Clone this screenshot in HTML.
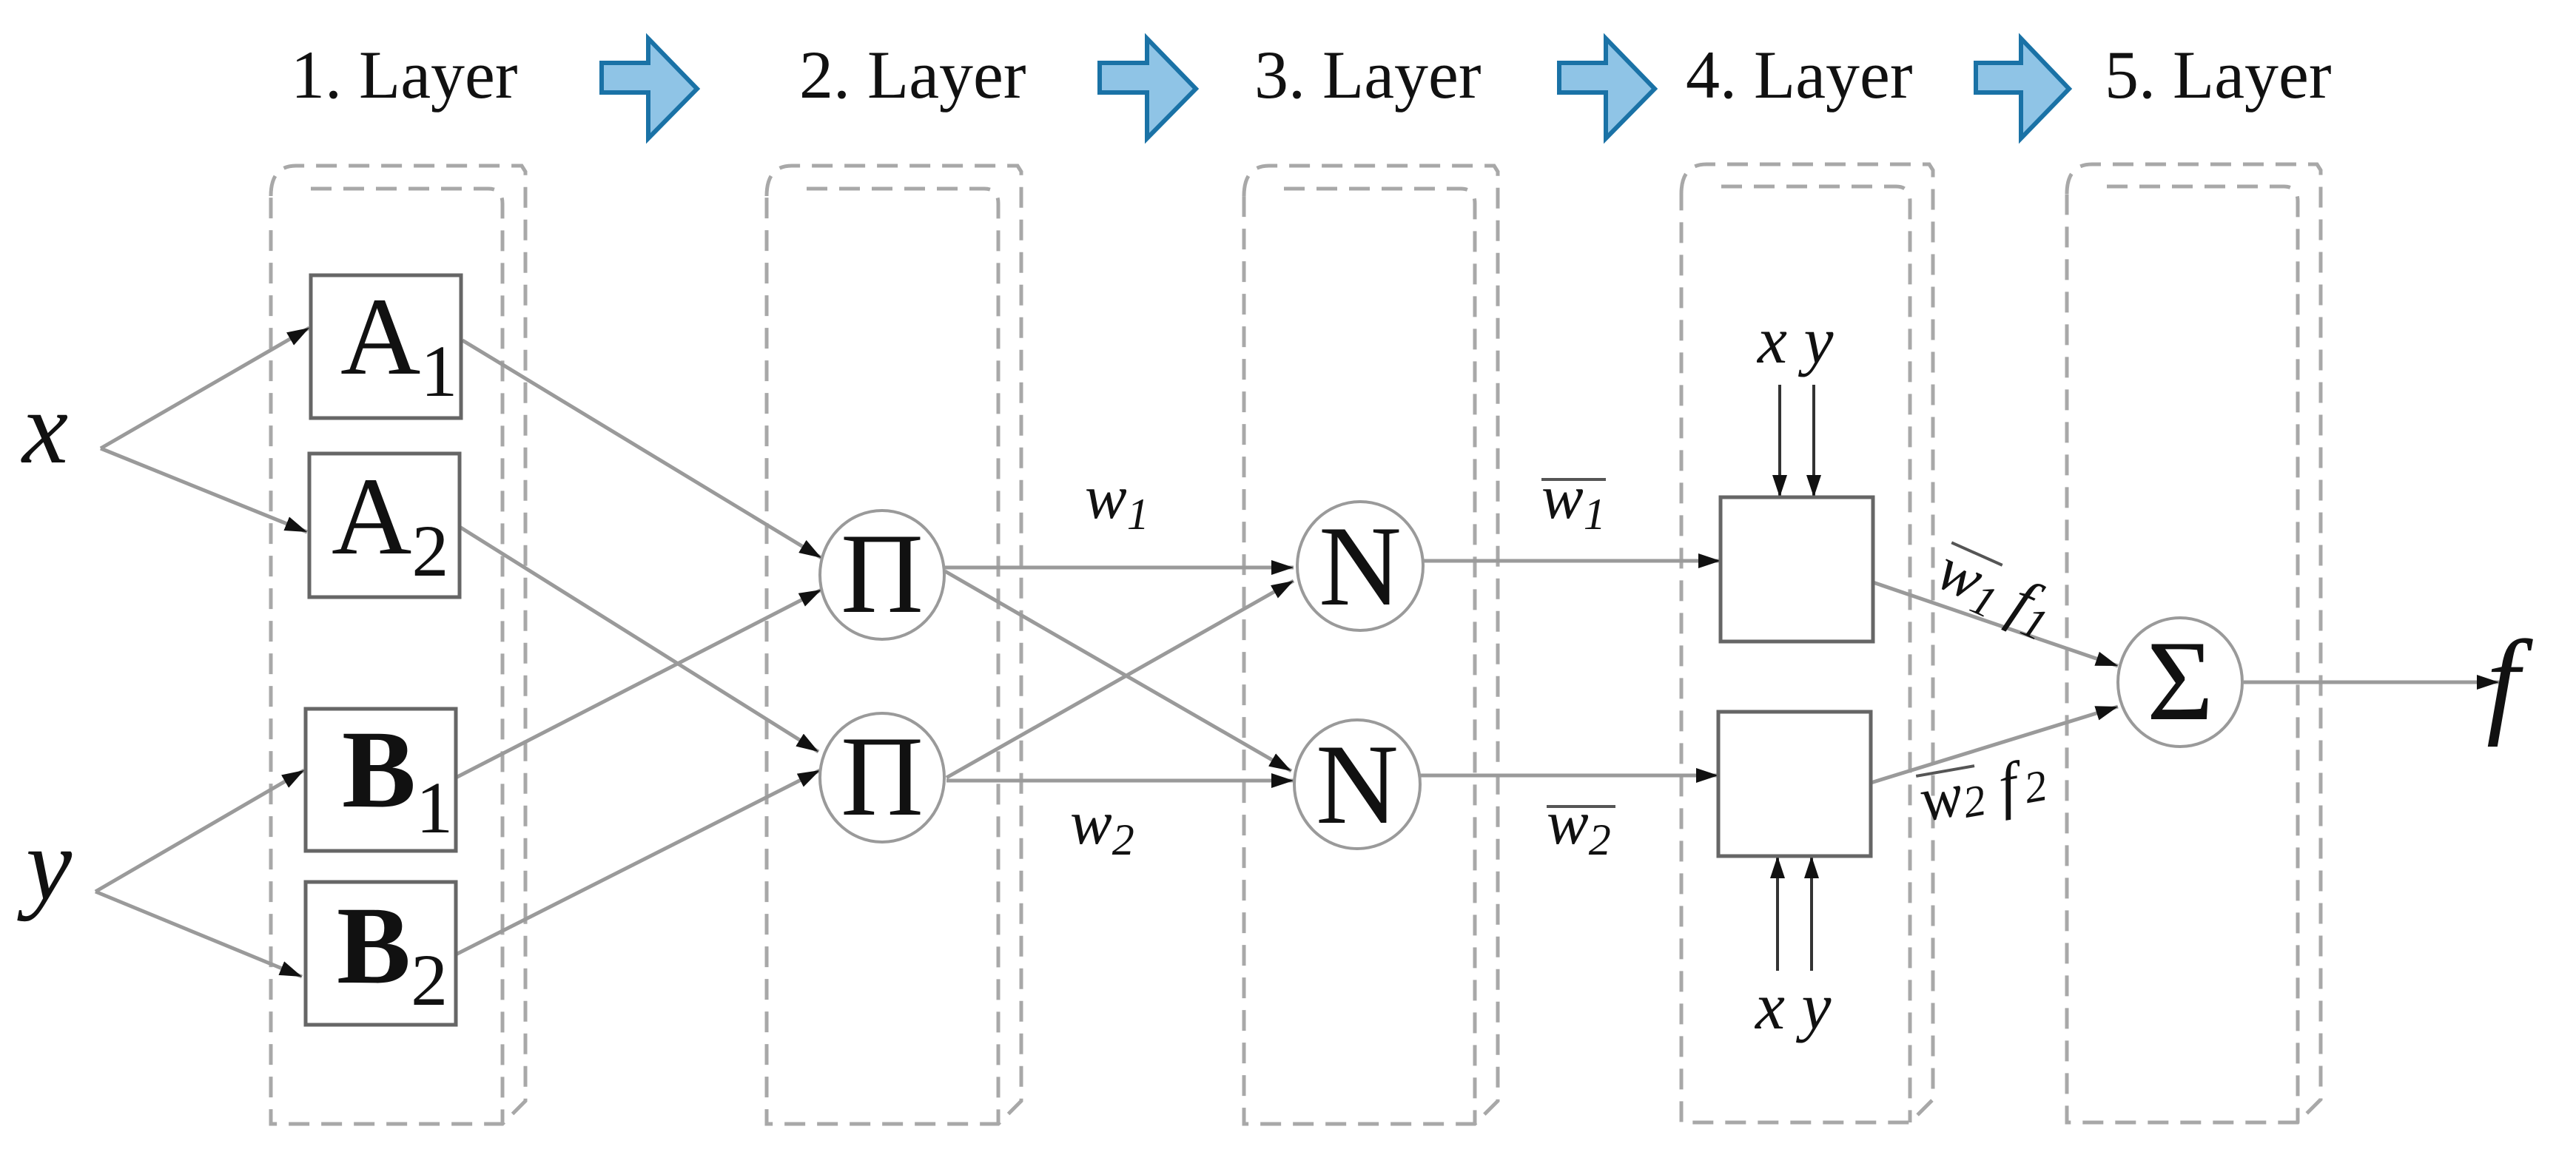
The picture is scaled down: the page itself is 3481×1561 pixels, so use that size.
<!DOCTYPE html>
<html><head><meta charset="utf-8"><style>
html,body{margin:0;padding:0;background:#fff;}
svg{display:block;}
text{font-family:"Liberation Serif",serif;fill:#111;}
</style></head><body>
<svg width="3481" height="1561" viewBox="0 0 3481 1561" xmlns="http://www.w3.org/2000/svg">
<defs>
<marker id="ah" viewBox="0 0 10 10" refX="10" refY="5" markerWidth="10" markerHeight="10" markerUnits="userSpaceOnUse" orient="auto">
</marker>
<marker id="a" viewBox="0 0 12 8" refX="12" refY="4" markerWidth="30" markerHeight="20" markerUnits="userSpaceOnUse" orient="auto"><path d="M0,0 L12,4 L0,8 Z" fill="#111"/></marker>
</defs>

<!-- Title texts -->
<g font-size="92">
<text x="393" y="132">1. Layer</text>
<text x="1080" y="132">2. Layer</text>
<text x="1695" y="132">3. Layer</text>
<text x="2278" y="132">4. Layer</text>
<text x="2844" y="132">5. Layer</text>
</g>
<!-- block arrows -->
<g fill="#8fc4e6" stroke="#1a72a6" stroke-width="6" stroke-linejoin="miter">
<path d="M813,85 L876,85 L876,52 L942,120 L876,187 L876,125 L813,125 Z"/>
<path d="M1486,85 L1550,85 L1550,52 L1616,120 L1550,187 L1550,125 L1486,125 Z"/>
<path d="M2107,85 L2170,85 L2170,52 L2236,120 L2170,187 L2170,125 L2107,125 Z"/>
<path d="M2670,85 L2731,85 L2731,52 L2796,120 L2731,187 L2731,125 L2670,125 Z"/>
</g>

<!-- dashed layer boxes -->
<g fill="none" stroke="#a8a8a8" stroke-width="5" stroke-dasharray="28,16">
<g id="b1">
<path d="M366,265 Q366,224 400,224 L705,224 L710,232 L710,1488 L679,1519 L366,1519 Z"/>
<path d="M420,255 L660,255 Q679,255 679,275 L679,1519"/>
</g>
<path d="M1036,265 Q1036,224 1070,224 L1375,224 L1380,232 L1380,1488 L1349,1519 L1036,1519 Z"/>
<path d="M1090,255 L1330,255 Q1349,255 1349,275 L1349,1519"/>
<path d="M1681,265 Q1681,224 1715,224 L2019,224 L2024,232 L2024,1488 L1993,1519 L1681,1519 Z"/>
<path d="M1735,255 L1974,255 Q1993,255 1993,275 L1993,1519"/>
<path d="M2272,262 Q2272,222 2306,222 L2607,222 L2612,230 L2612,1486 L2581,1517 L2272,1517 Z"/>
<path d="M2326,252 L2562,252 Q2581,252 2581,272 L2581,1517"/>
<path d="M2793,262 Q2793,222 2827,222 L3131,222 L3136,230 L3136,1486 L3105,1517 L2793,1517 Z"/>
<path d="M2847,252 L3086,252 Q3105,252 3105,272 L3105,1517"/>
</g>

<!-- connectors -->
<g stroke="#9a9a9a" stroke-width="5" fill="none" marker-end="url(#a)">
<line x1="136" y1="606" x2="418" y2="443"/>
<line x1="136" y1="606" x2="415" y2="719"/>
<line x1="129" y1="1205" x2="411" y2="1041"/>
<line x1="129" y1="1205" x2="408" y2="1320"/>
<line x1="625" y1="460" x2="1110" y2="754"/>
<line x1="621" y1="712" x2="1106" y2="1016"/>
<line x1="616" y1="1051" x2="1110" y2="797"/>
<line x1="616" y1="1290" x2="1108" y2="1041"/>
<line x1="1277" y1="767" x2="1748" y2="767"/>
<line x1="1277" y1="772" x2="1745" y2="1042"/>
<line x1="1279" y1="1051" x2="1748" y2="785"/>
<line x1="1279" y1="1055" x2="1748" y2="1055"/>
<line x1="1924" y1="758" x2="2325" y2="758"/>
<line x1="1918" y1="1048" x2="2322" y2="1048"/>
<line x1="2531" y1="787" x2="2862" y2="900"/>
<line x1="2528" y1="1058" x2="2862" y2="955"/>
<line x1="3032" y1="922" x2="3377" y2="922"/>
</g>
<g stroke="#333" stroke-width="4" marker-end="url(#a)">
<line x1="2405" y1="520" x2="2405" y2="672"/>
<line x1="2451" y1="520" x2="2451" y2="672"/>
<line x1="2402" y1="1312" x2="2402" y2="1157"/>
<line x1="2448" y1="1312" x2="2448" y2="1157"/>
</g>

<!-- layer 1 nodes -->
<g fill="#fff" stroke="#666" stroke-width="5">
<rect x="420" y="372" width="203" height="193"/>
<rect x="418" y="613" width="203" height="194"/>
<rect x="413" y="958" width="203" height="192"/>
<rect x="413" y="1192" width="203" height="193"/>
<rect x="2325" y="672" width="206" height="195"/>
<rect x="2322" y="962" width="206" height="195"/>
</g>
<g font-size="150">
<text x="460" y="505">A<tspan font-size="100" dy="30">1</tspan></text>
<text x="448" y="748">A<tspan font-size="100" dy="30">2</tspan></text>
<text x="462" y="1090" font-weight="bold">B<tspan font-size="100" font-weight="normal" dy="35">1</tspan></text>
<text x="455" y="1328" font-weight="bold">B<tspan font-size="100" font-weight="normal" dy="30">2</tspan></text>
</g>

<!-- circles -->
<g fill="#fff" stroke="#9a9a9a" stroke-width="4">
<ellipse cx="1192" cy="777" rx="84" ry="87"/>
<ellipse cx="1192" cy="1051" rx="84" ry="87"/>
<ellipse cx="1838" cy="765" rx="85" ry="87"/>
<ellipse cx="1834" cy="1060" rx="85" ry="87"/>
<ellipse cx="2946" cy="922" rx="84" ry="87"/>
</g>
<g font-size="155" text-anchor="middle">
<text x="1192" y="827">Π</text>
<text x="1192" y="1101">Π</text>
<text x="1838" y="817">N</text>
<text x="1834" y="1112">N</text>
<text x="2946" y="972">Σ</text>
</g>

<!-- labels -->
<g font-style="italic">
<text x="30" y="625" font-size="140">x</text>
<text x="35" y="1215" font-size="140">y</text>
<text x="3360" y="975" font-size="160">f</text>
<text x="1466" y="700" font-size="85">w<tspan font-size="60" dy="15">1</tspan></text>
<text x="1446" y="1140" font-size="85">w<tspan font-size="60" dy="15">2</tspan></text>
<text x="2083" y="700" font-size="85">w<tspan font-size="60" dy="15">1</tspan></text>
<text x="2090" y="1140" font-size="85">w<tspan font-size="60" dy="15">2</tspan></text>
<text x="2375" y="490" font-size="90">x y</text>
<text x="2372" y="1390" font-size="90">x y</text>
<g transform="translate(2612,790) rotate(24)"><text x="0" y="0" font-size="85">w<tspan font-size="60" dy="12">1</tspan><tspan dy="-12" font-size="85"> f</tspan><tspan font-size="60" dy="12">1</tspan></text>
<line x1="0" y1="-62" x2="75" y2="-62" stroke="#555" stroke-width="4"/></g>
<g transform="translate(2600,1110) rotate(-10)"><text x="0" y="0" font-size="85">w<tspan font-size="60" dy="5">2</tspan><tspan dy="-5" font-size="85"> f</tspan><tspan font-size="60" dx="10">2</tspan></text>
<line x1="0" y1="-62" x2="80" y2="-62" stroke="#555" stroke-width="4"/></g>
</g>
<g stroke="#555" stroke-width="4">
<line x1="2083" y1="648" x2="2170" y2="648"/>
<line x1="2090" y1="1090" x2="2183" y2="1090"/>
</g>
</svg>
</body></html>
